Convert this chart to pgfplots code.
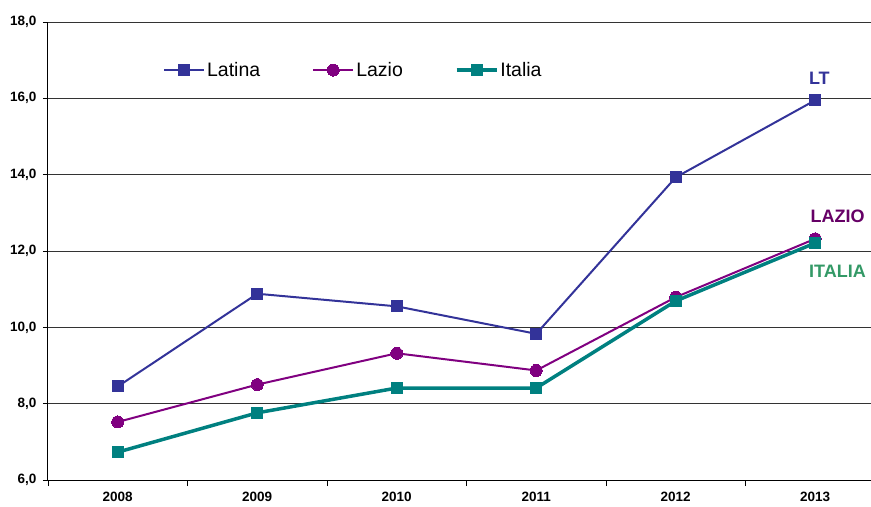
\documentclass[border=0pt]{standalone}
\usepackage{pgfplots}
\pgfplotsset{compat=1.18}
\usepackage{fontspec}
\setmainfont{Liberation Sans}
\usetikzlibrary{calc}
\definecolor{cLT}{HTML}{333399}
\definecolor{cLZ}{HTML}{800080}
\definecolor{cIT}{HTML}{008080}
\definecolor{tLZ}{HTML}{660066}
\definecolor{tIT}{HTML}{339966}
\begin{document}
\begin{tikzpicture}[x=1pt,y=1pt]
\begin{axis}[name=ax,
  scale only axis, width=823pt, height=458pt,
  xmin=-0.5, xmax=5.4, ymin=6, ymax=18,
  axis x line*=bottom, axis y line*=left,
  axis line style={black, line width=1pt, -},
  xtick={0,1,2,3,4,5},
  xticklabels={2008,2009,2010,2011,2012,2013},
  minor xtick={-0.5,0.5,1.5,2.5,3.5,4.5},
  tick align=outside,
  major x tick style={draw=none},
  minor tick length=6pt,
  major tick length=5pt,
  tick style={black, line width=0.8pt},
  ytick={6,8,...,18},
  ymajorgrids, grid style={black!80, line width=0.8pt},
  /pgf/number format/assume math mode=true,
  yticklabel={\pgfmathprintnumber[fixed,fixed zerofill,precision=1,use comma]{\tick}},
  ticklabel style={font=\fontsize{13.5}{15}\selectfont\bfseries},
  xticklabel style={yshift=-4pt},
  yticklabel style={xshift=-3pt},
  clip=false,
  legend columns=3,
  legend style={draw=none, fill=none, at={(rel axis cs:0.136,0.895)}, anchor=west,
    font=\fontsize{19.5}{22}\selectfont, /tikz/every even column/.append style={column sep=50pt}},
  legend image code/.code={\draw[mark repeat=2,mark phase=2] plot coordinates {(0pt,0pt) (20pt,0pt) (40pt,0pt)};},
]
\addplot[cLT, line width=2pt, mark=square*, mark size=5.5pt, mark options={solid, fill=cLT, line width=0pt}]
  coordinates {(0,8.45) (1,10.88) (2,10.55) (3,9.83) (4,13.93) (5,15.95)};
\addlegendentry{Latina}
\addplot[cLZ, line width=2pt, mark=*, mark size=6pt, mark options={solid, fill=cLZ, line width=0pt}]
  coordinates {(0,7.52) (1,8.5) (2,9.32) (3,8.87) (4,10.79) (5,12.32)};
\addlegendentry{Lazio}
\addplot[cIT, line width=3.5pt, mark=square*, mark size=5.5pt, mark options={solid, fill=cIT, line width=0pt}]
  coordinates {(0,6.73) (1,7.76) (2,8.41) (3,8.41) (4,10.69) (5,12.21)};
\addlegendentry{Italia}
\node[text=cLT, font=\fontsize{18}{20}\selectfont\bfseries] at (axis cs:5.03,16.53) {LT};
\node[text=tLZ, font=\fontsize{18}{20}\selectfont\bfseries] at (axis cs:5.16,12.92) {LAZIO};
\node[text=tIT, font=\fontsize{18}{20}\selectfont\bfseries] at (axis cs:5.16,11.48) {ITALIA};
\end{axis}
\pgfresetboundingbox
\path ($(ax.south west)+(-48pt,-26pt)$) rectangle ($(ax.north east)+(0pt,22pt)$);
\end{tikzpicture}
\end{document}
